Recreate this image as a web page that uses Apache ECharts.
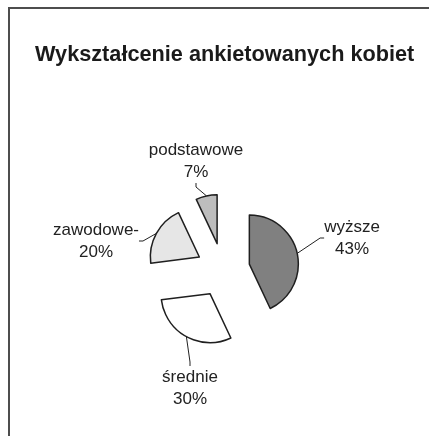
<!DOCTYPE html>
<html>
<head>
<meta charset="utf-8">
<script src="https://cdn.jsdelivr.net/npm/echarts@6/dist/echarts.min.js"></script>
<style>
  html, body { margin: 0; padding: 0; background: #fff; }
  #chart { width: 429px; height: 436px; }
</style>
</head>
<body>
<div id="chart"></div>
<script>
const categories = ['wyższe', 'średnie', 'zawodowe-', 'podstawowe'];
const percents = [43, 30, 20, 7];
const colors = ['#808080', '#ffffff', '#e6e6e6', '#bdbdbd'];

// where each label block sits (centre of the two text lines)
const labelSpots = [[352, 238], [190, 388], [96, 241], [196, 161]];

const pieCenter = [223, 270];
const explode = 27;

const total = percents.reduce((a, b) => a + b, 0);

// every slice is its own series so it can be pushed out from the middle
function makeSeries(k) {
  let before = 0;
  for (let i = 0; i < k; i++) before += percents[i];
  const mid = (before + percents[k] / 2) / total * Math.PI * 2;
  const cx = pieCenter[0] + explode * Math.sin(mid);
  const cy = pieCenter[1] - explode * Math.cos(mid);

  const data = categories.map((name, i) => {
    const own = i === k;
    return {
      name: name,
      value: percents[i],
      itemStyle: own
        ? { color: colors[i], borderColor: '#1f1f1f', borderWidth: 1.5 }
        : { color: 'rgba(0,0,0,0)', borderWidth: 0 },
      label: { show: own },
      labelLine: { show: own }
    };
  });

  return {
    type: 'pie',
    center: [cx, cy],
    radius: 49,
    startAngle: 90,
    clockwise: true,
    avoidLabelOverlap: false,
    silent: true,
    data: data,
    emphasis: { disabled: true },
    label: {
      position: 'outside',
      formatter: p => p.name + '\n' + p.value + '%',
      fontFamily: 'Liberation Sans',
      fontSize: 17,
      lineHeight: 22,
      color: '#222',
      align: 'center'
    },
    labelLine: {
      length: 6,
      length2: 4,
      lineStyle: { color: '#222', width: 1 }
    },
    labelLayout: params => {
      if (params.dataIndex !== k) return {};
      const spot = labelSpots[k];
      return { x: spot[0], y: spot[1], align: 'center', verticalAlign: 'middle' };
    }
  };
}

const chart = echarts.init(document.getElementById('chart'));

chart.setOption({
  animation: false,
  backgroundColor: '#fff',
  graphic: [
    {
      type: 'rect',
      shape: { x: 9, y: 8, width: 440, height: 450 },
      style: { fill: 'none', stroke: '#4d4d4d', lineWidth: 2 },
      silent: true
    }
  ],
  title: {
    text: 'Wykształcenie ankietowanych kobiet',
    left: 35,
    top: 44,
    padding: 0,
    textStyle: {
      fontFamily: 'Liberation Sans',
      fontSize: 21.7,
      fontWeight: 'bold',
      color: '#1a1a1a'
    }
  },
  series: categories.map((v, k) => makeSeries(k))
});
</script>
</body>
</html>
